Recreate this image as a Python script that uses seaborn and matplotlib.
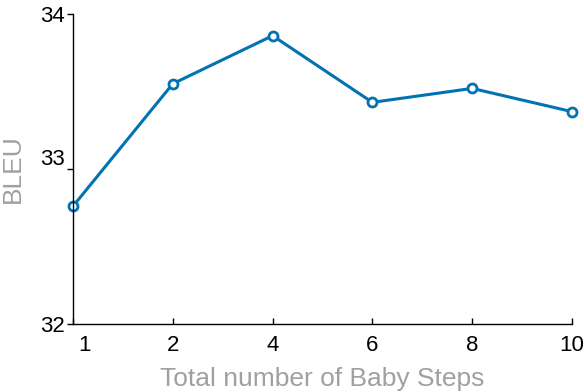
import matplotlib
matplotlib.use("Agg")
import matplotlib.pyplot as plt
import matplotlib.transforms as mtransforms
import seaborn as sns
import pandas as pd

steps = ["1", "2", "4", "6", "8", "10"]
bleu = [32.76, 33.55, 33.86, 33.43, 33.52, 33.37]

sns.set_theme(style="ticks")
plt.rcParams["font.family"] = ["Liberation Sans", "DejaVu Sans"]

df = pd.DataFrame({"pos": range(len(steps)), "bleu": bleu})

fig = plt.figure(figsize=(5.84, 3.92), dpi=100)
ax = fig.add_axes([73 / 584, 1 - 324 / 392, (572 - 73) / 584, (324 - 14) / 392])

sns.lineplot(data=df, x="pos", y="bleu", ax=ax, color="#0173b2", linewidth=2.2,
             marker="o", markersize=6.5, markerfacecolor="white",
             markeredgecolor="#0173b2", markeredgewidth=2.0)
for ln in ax.lines:
    ln.set_clip_on(False)

ax.set_xlim(0, len(steps) - 1)
ax.set_ylim(32, 34)
ax.set_yticks([32, 33, 34])
ax.set_xticks(range(len(steps)))
ax.set_xticklabels(steps)

ax.tick_params(axis="x", direction="in", length=4, width=1, labelsize=16, pad=8, colors="black")
ax.tick_params(axis="y", direction="out", length=4, width=1, labelsize=16, pad=2, colors="black")

# nudge the first x label clear of the y axis
first = ax.get_xticklabels()[0]
first.set_transform(first.get_transform() + mtransforms.ScaledTranslation(11 / 100, 0, fig.dpi_scale_trans))
# middle y label sits a little above its tick
mid = ax.get_yticklabels()[1]
mid.set_transform(mid.get_transform() + mtransforms.ScaledTranslation(0, 12 / 100, fig.dpi_scale_trans))

for s in ["top", "right"]:
    ax.spines[s].set_visible(False)
for s in ["left", "bottom"]:
    ax.spines[s].set_color("black")
    ax.spines[s].set_linewidth(1.0)

ax.set_xlabel("Total number of Baby Steps", fontsize=19, color="#a0a0a0", labelpad=8)
ax.set_ylabel("BLEU", fontsize=19, color="#a0a0a0", labelpad=11)

fig.savefig("out.png", dpi=100)
